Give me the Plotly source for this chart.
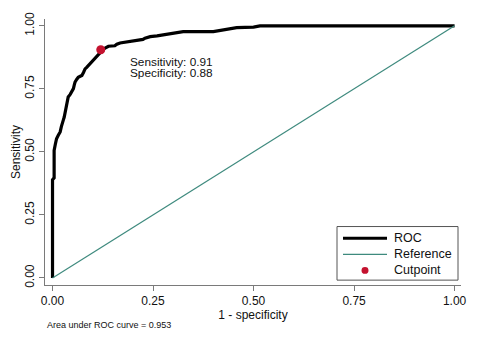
import plotly.graph_objects as go

# ROC curve points (1 - specificity, sensitivity)
roc_fpr = [0.000, 0.000, 0.004, 0.004, 0.007, 0.010, 0.014, 0.019, 0.022, 0.024, 0.027, 0.029, 0.032, 0.035, 0.037,
           0.039, 0.044, 0.048, 0.050, 0.052, 0.054, 0.056, 0.060, 0.064, 0.069, 0.073, 0.077, 0.081, 0.085,
           0.089, 0.094, 0.098, 0.102, 0.106, 0.110, 0.114, 0.120, 0.126, 0.132, 0.139, 0.155, 0.160,
           0.168, 0.193, 0.205, 0.218, 0.225, 0.230, 0.243, 0.260, 0.276, 0.300, 0.325, 0.400, 0.410,
           0.417, 0.430, 0.442, 0.458, 0.500, 0.516, 1.000]
roc_tpr = [0.000, 0.389, 0.397, 0.506, 0.530, 0.552, 0.565, 0.579, 0.600, 0.617, 0.627, 0.637, 0.660, 0.687, 0.700,
           0.718, 0.728, 0.737, 0.745, 0.751, 0.765, 0.777, 0.787, 0.796, 0.800, 0.803, 0.815, 0.829, 0.835,
           0.842, 0.852, 0.861, 0.866, 0.874, 0.880, 0.887, 0.897, 0.906, 0.913, 0.919, 0.921, 0.927,
           0.932, 0.938, 0.940, 0.942, 0.946, 0.951, 0.957, 0.960, 0.964, 0.970, 0.977, 0.977, 0.980,
           0.983, 0.987, 0.990, 0.993, 0.995, 1.000, 1.000]

ref_x = [0, 1]
ref_y = [0, 1]

cut_fpr = [0.12]
cut_tpr = [0.905]
cut_sens = 0.91
cut_spec = 0.88
auc = 0.953

tick_vals = [0, 0.25, 0.5, 0.75, 1.0]
tick_text = ["0.00", "0.25", "0.50", "0.75", "1.00"]
legend_names = ["ROC", "Reference", "Cutpoint"]

FONT = "Liberation Sans, Arial, Helvetica, sans-serif"
AXC = "#7a7a7a"
ROC_C = "black"
REF_C = "#3e8a7e"
CUT_C = "#c4122f"

fig = go.Figure()
fig.add_trace(go.Scatter(x=roc_fpr, y=roc_tpr, mode="lines", name=legend_names[0],
                         line=dict(color=ROC_C, width=3.2), showlegend=False))
fig.add_trace(go.Scatter(x=ref_x, y=ref_y, mode="lines", name=legend_names[1],
                         line=dict(color=REF_C, width=1.2), showlegend=False))
fig.add_trace(go.Scatter(x=cut_fpr, y=cut_tpr, mode="markers", name=legend_names[2],
                         marker=dict(color=CUT_C, size=9), showlegend=False))

fig.add_annotation(x=0.19, y=0.858, xref="x", yref="y", text=f"Sensitivity: {cut_sens:.2f}",
                   showarrow=False, xanchor="left", yanchor="middle", borderpad=0,
                   font=dict(family=FONT, size=11.8, color="#111"))
fig.add_annotation(x=0.19, y=0.814, xref="x", yref="y", text=f"Specificity: {cut_spec:.2f}",
                   showarrow=False, xanchor="left", yanchor="middle", borderpad=0,
                   font=dict(family=FONT, size=11.8, color="#111"))
fig.add_annotation(x=0.0, y=-0.15, xref="paper", yref="paper",
                   text=f"Area under ROC curve = {auc:.3f}", showarrow=False,
                   xanchor="left", yanchor="middle",
                   font=dict(family=FONT, size=9, color="#111"))

# manual legend (paper coordinates of the plot area: x 45..461 px, y 12..285 px)
def px(xp):
    return (xp - 45) / 416.0

def py(yp):
    return (285 - yp) / 273.0

fig.add_shape(type="rect", xref="paper", yref="paper", x0=px(337), x1=px(458), y0=py(280), y1=py(225),
              line=dict(color="#555", width=1), fillcolor="white", layer="above")
fig.add_shape(type="line", xref="paper", yref="paper", x0=px(343), x1=px(387), y0=py(237), y1=py(237),
              line=dict(color=ROC_C, width=3.2), layer="above")
fig.add_shape(type="line", xref="paper", yref="paper", x0=px(343), x1=px(387), y0=py(253.5), y1=py(253.5),
              line=dict(color=REF_C, width=1.2), layer="above")
fig.add_shape(type="circle", xref="paper", yref="paper", x0=px(361.5), x1=px(368.5), y0=py(273.5), y1=py(266.5),
              line=dict(color=CUT_C, width=0), fillcolor=CUT_C, layer="above")
for name, yp in zip(legend_names, [237, 253.5, 270]):
    fig.add_annotation(x=px(393), y=py(yp), xref="paper", yref="paper", text=name, showarrow=False,
                       xanchor="left", yanchor="middle", borderpad=0,
                       font=dict(family=FONT, size=12.5, color="#111"))

fig.update_layout(
    width=479, height=339,
    margin=dict(l=45, r=18, t=12, b=54),
    paper_bgcolor="white", plot_bgcolor="white",
    font=dict(family=FONT, size=12, color="#111"),
    showlegend=False,
    xaxis=dict(range=[-0.0187, 1.016], tickvals=tick_vals, ticktext=tick_text,
               showgrid=False, zeroline=False, showline=True, linecolor=AXC, linewidth=1,
               ticks="outside", ticklen=5, tickcolor=AXC,
               tickfont=dict(size=12),
               title=dict(text="1 - specificity", font=dict(size=12), standoff=0)),
    yaxis=dict(range=[-0.028, 1.027], tickvals=tick_vals, ticktext=tick_text,
               showgrid=False, zeroline=False, showline=True, linecolor=AXC, linewidth=1,
               ticks="outside", ticklen=5, tickcolor=AXC, tickangle=-90,
               tickfont=dict(size=12),
               title=dict(text="Sensitivity", font=dict(size=12), standoff=0)),
)

fig.write_html("out.html")
